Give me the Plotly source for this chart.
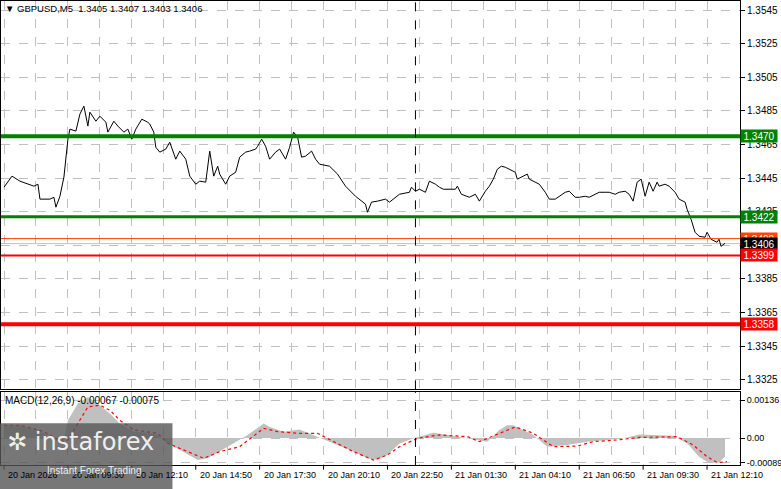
import plotly.graph_objects as go

# ---- data (bar index, 5-minute bars starting 20 Jan 06:50) ----
price_bar = [0,4,8,15,17,18,23,25,26,28,30,32,33,36,38,40,42,43,46,48,51,52,55,57,60,62,64,66,69,72,73,75,76,78,81,83,86,88,91,93,96,98,101,103,105,107,108,111,113,116,118,121,123,126,127,129,131,133,136,138,141,143,145,147,149,151,154,156,158,163,167,171,176,181,182,184,187,191,193,196,198,203,204,206,208,211,213,216,218,220,223,226,227,229,233,236,238,241,243,245,247,249,251,253,256,257,259,262,263,266,268,271,273,276,278,281,283,286,288,291,293,296,298,301,303,306,308,311,313,315,317,319,321,323,325,327,328,331,333,336,338,341,342,344,346,348,351,352,354,357,358,359,361]
price_close = [1.34396,1.34462,1.34432,1.34402,1.34414,1.34325,1.34325,1.34336,1.34277,1.34342,1.34456,1.34682,1.34742,1.34730,1.34831,1.34879,1.34760,1.34843,1.34789,1.34819,1.34783,1.34724,1.34789,1.34760,1.34724,1.34742,1.34682,1.34742,1.34801,1.34783,1.34772,1.34724,1.34634,1.34605,1.34623,1.34664,1.34563,1.34611,1.34563,1.34462,1.34414,1.34432,1.34426,1.34611,1.34462,1.34521,1.34474,1.34414,1.34462,1.34485,1.34575,1.34605,1.34611,1.34623,1.34640,1.34682,1.34640,1.34563,1.34605,1.34623,1.34563,1.34634,1.34724,1.34694,1.34575,1.34581,1.34611,1.34563,1.34533,1.34521,1.34474,1.34402,1.34342,1.34295,1.34247,1.34307,1.34313,1.34325,1.34307,1.34336,1.34354,1.34366,1.34396,1.34372,1.34384,1.34366,1.34432,1.34414,1.34396,1.34384,1.34384,1.34384,1.34402,1.34354,1.34336,1.34354,1.34313,1.34372,1.34402,1.34444,1.34503,1.34521,1.34515,1.34503,1.34485,1.34444,1.34456,1.34474,1.34444,1.34426,1.34414,1.34366,1.34325,1.34325,1.34342,1.34366,1.34372,1.34336,1.34336,1.34342,1.34336,1.34354,1.34366,1.34366,1.34366,1.34354,1.34366,1.34372,1.34354,1.34313,1.34426,1.34444,1.34342,1.34426,1.34372,1.34426,1.34402,1.34414,1.34402,1.34366,1.34325,1.34307,1.34265,1.34205,1.34128,1.34104,1.34098,1.34128,1.34086,1.34068,1.34086,1.34044,1.34062]

hist_bar = [0,8,20,27,30,32,37,42,48,53,58,65,72,77,82,88,97,102,108,115,122,130,133,140,148,155,163,173,182,187,192,198,205,215,232,242,248,252,255,260,265,272,282,292,302,312,318,325,335,342,348,353,358,361]
hist_val = [0.00046,0.00046,0.00017,-0.00013,-0.00007,0.00064,0.00124,0.00148,0.00118,0.00088,0.00052,0.00023,0.00019,0.00011,-0.00019,-0.00043,-0.00079,-0.00073,-0.00049,-0.00019,0.00011,0.00052,0.00040,0.00023,0.00031,0.00011,-0.00013,-0.00043,-0.00073,-0.00079,-0.00061,-0.00020,-0.00001,0.00019,-0.00001,-0.00013,0.00029,0.00046,0.00046,0.00029,0.00011,-0.00031,-0.00025,-0.00013,-0.00007,0.00002,0.00013,0.00011,0.00008,-0.00019,-0.00067,-0.00090,-0.00088,-0.00067]

sig_bar = [0,8,20,29,32,37,42,48,53,58,65,77,82,88,100,108,118,130,137,148,157,165,175,185,192,198,207,218,232,238,248,256,265,275,287,295,307,318,337,345,352,357,362]
sig_val = [0.00046,0.00046,0.00023,-0.00013,-0.00007,0.00052,0.00112,0.00118,0.00100,0.00064,0.00029,0.00017,-0.00019,-0.00037,-0.00073,-0.00049,-0.00031,0.00035,0.00023,0.00017,0.00017,-0.00013,-0.00049,-0.00079,-0.00061,-0.00031,-0.00001,0.00011,0.00005,-0.00013,0.00017,0.00040,0.00017,-0.00031,-0.00029,-0.00013,-0.00007,0.00002,0.00005,-0.00025,-0.00067,-0.00088,-0.00085]

level_vals = [1.3470, 1.3422, 1.3409, 1.3406, 1.3399, 1.3358]
level_cols = ["#008000", "#008000", "#FF4500", "#000000", "#FF0000", "#FF0000"]
level_line_cols = ["#008000", "#008000", "#FF4500", "#C0C0C0", "#FF0000", "#FF0000"]
level_widths = [4, 3, 1, 1, 2, 4]

price_ticks = [1.3545,1.3525,1.3505,1.3485,1.3465,1.3445,1.3425,1.3405,1.3385,1.3365,1.3345,1.3325]
time_tick_bars = [0,32,64,96,128,160,192,224,256,288,320,352]
time_tick_text = ["20 Jan 2026","20 Jan 09:30","20 Jan 12:10","20 Jan 14:50","20 Jan 17:30","20 Jan 20:10",
                  "20 Jan 22:50","21 Jan 01:30","21 Jan 04:10","21 Jan 06:50","21 Jan 09:30","21 Jan 12:10"]
day_sep_bar = 206
macd_ticks = [0.00136, 0.0, -0.00089]
macd_tick_text = ["0.00136", "0.00", "-0.00089"]

FONT = "Liberation Sans"
fig = go.Figure()
fig.add_trace(go.Scatter(x=price_bar, y=price_close, mode="lines", line=dict(color="black", width=1),
                         xaxis="x", yaxis="y", hoverinfo="skip"))
fig.add_trace(go.Scatter(x=hist_bar, y=hist_val, mode="lines", line=dict(color="#C0C0C0", width=0),
                         fill="tozeroy", fillcolor="#C0C0C0", xaxis="x2", yaxis="y2", hoverinfo="skip"))
fig.add_trace(go.Scatter(x=sig_bar, y=sig_val, mode="lines", line=dict(color="#FF0000", width=1.2, dash="dot"),
                         xaxis="x2", yaxis="y2", hoverinfo="skip"))

shapes = []
for v, c, w in zip(level_vals, level_line_cols, level_widths):
    shapes.append(dict(type="line", xref="x domain", yref="y", x0=0, x1=1, y0=v, y1=v,
                       line=dict(color=c, width=w), layer="below" if c == "#C0C0C0" else "above"))
for ya in ("y", "y2"):
    shapes.append(dict(type="line", xref="x", yref=ya + " domain", x0=day_sep_bar, x1=day_sep_bar, y0=0, y1=1,
                       line=dict(color="black", width=1, dash="dash")))
for b in time_tick_bars:
    shapes.append(dict(type="line", xref="x2", yref="paper", x0=b, x1=b, y0=0, y1=-0.01,
                       line=dict(color="black", width=1)))
shapes.append(dict(type="rect", xref="paper", yref="paper", x0=-0.002, x1=0.232, y0=-0.055, y1=0.09,
                   fillcolor="rgba(85,85,85,0.8)", line=dict(width=0)))

ann = []
for v, c in zip(level_vals, level_cols):
    ann.append(dict(xref="paper", yref="y", x=1.0, y=v, xanchor="left", yanchor="middle",
                    text=f"{v:.4f}", showarrow=False, bgcolor=c, font=dict(color="white", size=10, family=FONT),
                    borderpad=0, width=36, height=12, align="center"))
for b, t in zip(time_tick_bars, time_tick_text):
    ann.append(dict(xref="x2", yref="paper", x=b, y=0, yshift=-3, xanchor="left", yanchor="top", xshift=2,
                    text=t, showarrow=False, font=dict(color="black", size=9, family=FONT)))
ann.append(dict(xref="paper", yref="paper", x=0.003, y=1.0, xanchor="left", yanchor="top",
                text="▼ GBPUSD,M5  1.3405 1.3407 1.3403 1.3406", showarrow=False,
                font=dict(size=9.5, family=FONT, color="black")))
ann.append(dict(xref="paper", yref="paper", x=0.003, y=0.155, xanchor="left", yanchor="top",
                text="MACD(12,26,9) -0.00067 -0.00075", showarrow=False,
                font=dict(size=10, family=FONT, color="black")))
ann.append(dict(xref="paper", yref="paper", x=0.005, y=0.085, xanchor="left", yanchor="top",
                text="✲ instaforex", showarrow=False,
                font=dict(size=24, family="DejaVu Sans", color="rgba(255,255,255,0.9)")))
ann.append(dict(xref="paper", yref="paper", x=0.06, y=0.005, xanchor="left", yanchor="top",
                text="Instant Forex Trading", showarrow=False,
                font=dict(size=10, family=FONT, color="rgba(255,255,255,0.9)")))

grid = dict(gridcolor="#C0C0C0", griddash="dash", gridwidth=1)
axis_frame = dict(showline=True, linecolor="black", linewidth=1, mirror=True, zeroline=False)
yt = dict(ticks="outside", ticklen=4, tickcolor="black", automargin=False)
fig.update_layout(
    width=781, height=489, margin=dict(l=1, r=41, t=1, b=24),
    paper_bgcolor="white", plot_bgcolor="white", showlegend=False,
    font=dict(family=FONT, size=10, color="black"),
    xaxis=dict(domain=[0, 1], range=[-1.5, 368.5], anchor="y", tick0=0, dtick=16, showticklabels=False,
               ticks="", automargin=False, **grid, **axis_frame),
    yaxis=dict(domain=[0.163, 1], range=[1.33192, 1.35505], side="right", tickvals=price_ticks,
               ticktext=[f"{v:.4f}" for v in price_ticks], tickfont=dict(size=10, family=FONT),
               **yt, **grid, **axis_frame),
    xaxis2=dict(domain=[0, 1], range=[-1.5, 368.5], anchor="y2", tick0=0, dtick=16, showticklabels=False,
                ticks="", automargin=False, **grid, **axis_frame),
    yaxis2=dict(domain=[0, 0.157], range=[-0.00097, 0.00165], side="right", tickvals=macd_ticks,
                ticktext=macd_tick_text, tickfont=dict(size=9, family=FONT),
                **yt, **grid, **axis_frame),
    shapes=shapes, annotations=ann,
)
fig.write_html("out.html", config={"displayModeBar": False},
               post_script="document.body.style.margin='0';document.body.style.overflow='hidden';")
